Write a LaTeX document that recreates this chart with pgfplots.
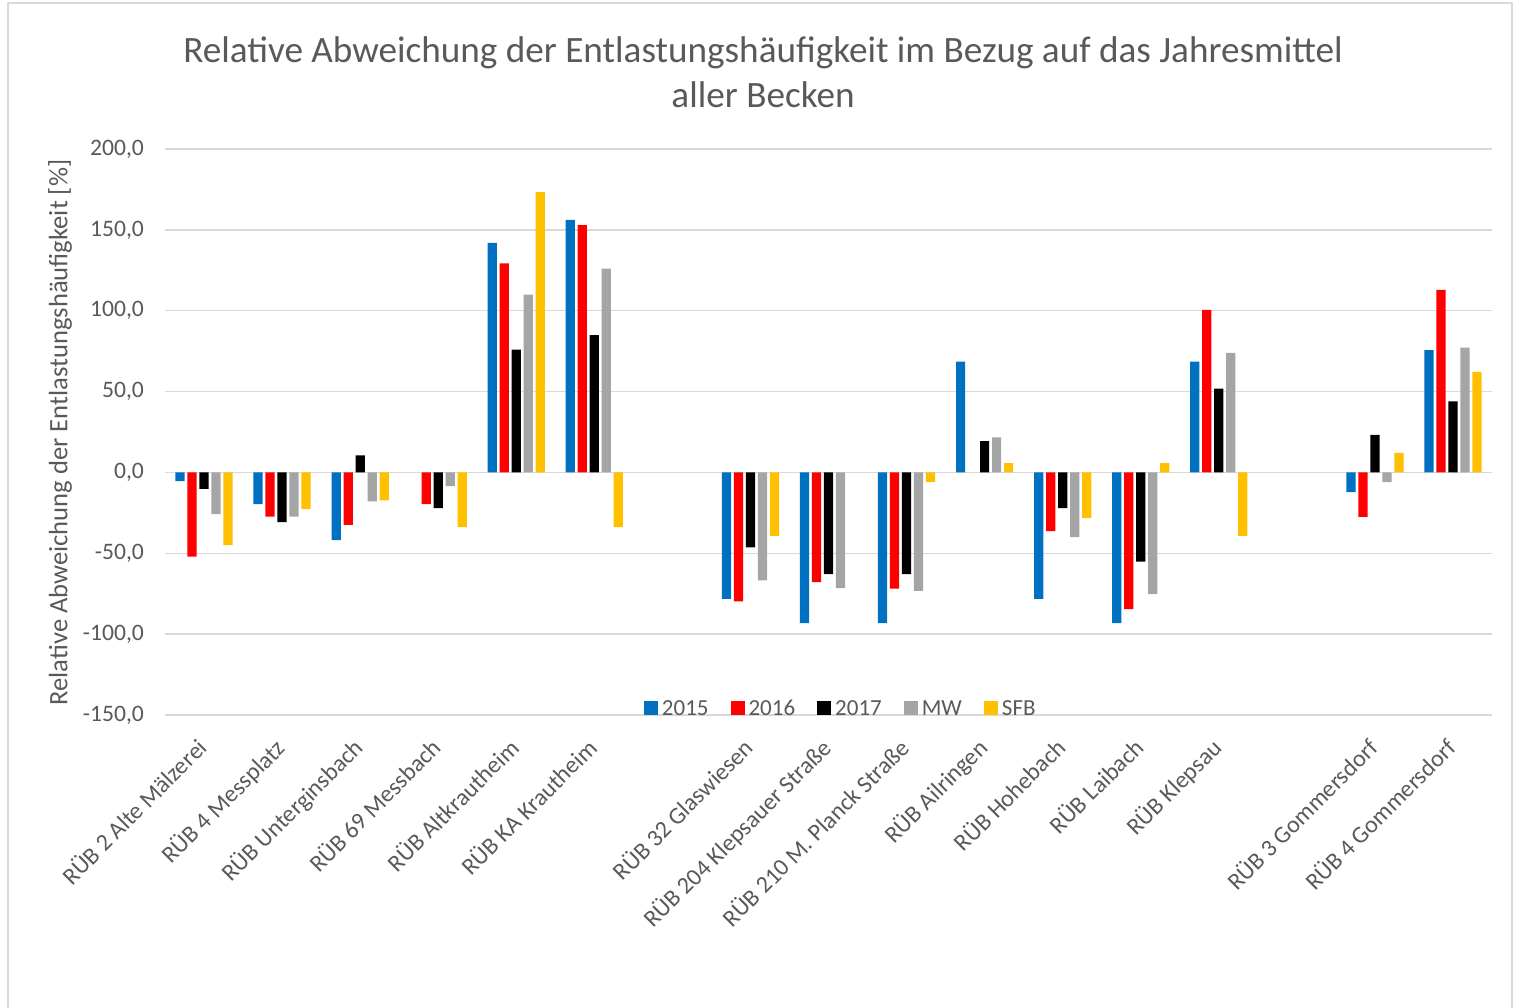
\documentclass[border=0pt]{standalone}
\usepackage{fontspec}
\setmainfont{Carlito}
\usepackage{pgfplots}
\pgfplotsset{compat=1.18}
\definecolor{cA}{HTML}{0070C0}
\definecolor{cB}{HTML}{FF0000}
\definecolor{cC}{HTML}{000000}
\definecolor{cD}{HTML}{A5A5A5}
\definecolor{cE}{HTML}{FFC000}
\definecolor{txt}{HTML}{595959}
\definecolor{gridc}{HTML}{D9D9D9}
\begin{document}
\begin{tikzpicture}
\path[use as bounding box] (0pt,0pt) rectangle (757pt,503.5pt);
\draw[gridc, line width=0.8pt] (4pt,-5pt) -- (4pt,502pt) -- (756pt,502pt) -- (756pt,-5pt);
\node[align=center, text=txt, font=\fontsize{18.6}{22.5}\selectfont] at (381.5pt,467.25pt)
  {Relative Abweichung der Entlastungshäufigkeit im Bezug auf das Jahresmittel\\aller Becken};
\node[rotate=90, text=txt, font=\fontsize{13.3}{16}\selectfont] at (30pt,287.25pt)
  {Relative Abweichung der Entlastungshäufigkeit [\%]};
\begin{axis}[
  at={(82.5pt,146pt)}, anchor=south west,
  scale only axis, width=663.5pt, height=283pt,
  ymin=-150, ymax=200, ytick={-150,-100,...,200},
  xmin=-0.5, xmax=16.5,
  xtick={0,1,2,3,4,5,7,8,9,10,11,12,13,15,16},
  xticklabels={RÜB 2 Alte Mälzerei, RÜB 4 Messplatz, RÜB Unterginsbach, RÜB 69 Messbach, RÜB Altkrautheim, RÜB KA Krautheim, RÜB 32 Glaswiesen, RÜB 204 Klepsauer Straße, RÜB 210 M. Planck Straße, RÜB Ailringen, RÜB Hohebach, RÜB Laibach, RÜB Klepsau, RÜB 3 Gommersdorf, RÜB 4 Gommersdorf},
  ybar=1.4pt, bar width=4.6pt,
  axis line style={draw=none},
  major tick length=0pt,
  ymajorgrids, grid style={gridc, line width=0.7pt},
  yticklabel style={text=txt, xshift=-7pt, font=\fontsize{11.8}{14}\selectfont, /pgf/number format/.cd, fixed, fixed zerofill, precision=1, use comma, 1000 sep={}, assume math mode=true},
  xticklabel style={rotate=45, anchor=north east, text=txt, font=\fontsize{12}{14}\selectfont, inner sep=1pt, xshift=-9.5pt, yshift=-3pt},
  legend style={at={(0.51,0.0)}, anchor=south, yshift=-6pt, draw=none, fill=none, legend columns=-1, font=\fontsize{11.5}{14}\selectfont, text=txt, /tikz/every even column/.append style={column sep=9pt}},
  legend image code/.code={\path[#1, draw=none] (0pt,-3pt) rectangle (7pt,4pt);},
]
\addplot[fill=cA, draw=none] coordinates {(0,-5.4)(1,-19.6)(2,-41.8)(4,141.9)(5,156.1)(7,-78.2)(8,-93.2)(9,-93.2)(10,68.5)(11,-78.2)(12,-93.2)(13,68.5)(15,-12.2)(16,75.6)};
\addplot[fill=cB, draw=none] coordinates {(0,-52.1)(1,-27.4)(2,-32.4)(3,-19.6)(4,129.2)(5,153.0)(7,-79.8)(8,-67.8)(9,-71.8)(11,-36.3)(12,-84.6)(13,100.5)(15,-27.5)(16,112.9)};
\addplot[fill=cC, draw=none] coordinates {(0,-10.1)(1,-30.7)(2,10.5)(3,-22.1)(4,76.0)(5,84.9)(7,-46.4)(8,-62.9)(9,-62.9)(10,19.4)(11,-22.1)(12,-55.1)(13,51.8)(15,23.2)(16,44.0)};
\addplot[fill=cD, draw=none] coordinates {(0,-25.8)(1,-27.4)(2,-17.9)(3,-8.5)(4,110.0)(5,126.1)(7,-66.8)(8,-71.5)(9,-73.2)(10,21.7)(11,-40.0)(12,-75.3)(13,73.9)(15,-6.0)(16,77.2)};
\addplot[fill=cE, draw=none] coordinates {(0,-44.9)(1,-22.7)(2,-17.3)(3,-33.8)(4,173.4)(5,-33.8)(7,-39.2)(9,-6.0)(10,5.8)(11,-28.3)(12,5.8)(13,-39.2)(15,12.1)(16,62.2)};
\legend{2015,2016,2017,MW,SFB}
\end{axis}
\end{tikzpicture}
\end{document}
